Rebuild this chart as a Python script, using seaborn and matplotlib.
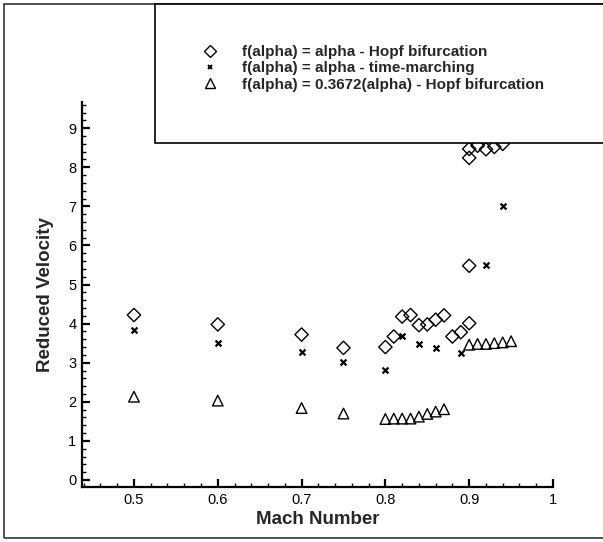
import numpy as np
import pandas as pd
import matplotlib
matplotlib.use("Agg")
import matplotlib.pyplot as plt
import seaborn as sns
from matplotlib.lines import Line2D
from matplotlib.patches import Rectangle
from matplotlib.ticker import MultipleLocator

# ---- data ----
mach_hopf = [0.5, 0.6, 0.7, 0.75, 0.8, 0.81, 0.82, 0.83, 0.84, 0.85, 0.86, 0.87,
             0.88, 0.89, 0.90, 0.90, 0.90, 0.90, 0.91, 0.92, 0.93, 0.94]
vel_hopf = [4.22, 3.98, 3.72, 3.38, 3.40, 3.67, 4.18, 4.22, 3.96, 3.98, 4.10, 4.21,
            3.67, 3.78, 4.01, 5.48, 8.24, 8.47, 8.55, 8.46, 8.52, 8.60]

mach_tm = [0.5, 0.6, 0.7, 0.75, 0.8, 0.82, 0.84, 0.86, 0.89, 0.92, 0.94]
vel_tm = [3.84, 3.50, 3.27, 3.02, 2.81, 3.69, 3.47, 3.37, 3.25, 5.51, 7.00]

mach_sc = [0.5, 0.6, 0.7, 0.75, 0.8, 0.81, 0.82, 0.83, 0.84, 0.85, 0.86, 0.87,
           0.90, 0.91, 0.92, 0.93, 0.94, 0.95]
vel_sc = [2.13, 2.03, 1.84, 1.70, 1.56, 1.57, 1.57, 1.57, 1.62, 1.69, 1.75, 1.81,
          3.46, 3.48, 3.48, 3.50, 3.52, 3.55]

labels = ["f(alpha) = alpha - Hopf bifurcation",
          "f(alpha) = alpha - time-marching",
          "f(alpha) = 0.3672(alpha) - Hopf bifurcation"]

x_ticks = [0.5, 0.6, 0.7, 0.8, 0.9, 1.0]
x_ticklabels = ["0.5", "0.6", "0.7", "0.8", "0.9", "1"]
y_ticks = list(range(0, 10))

sns.set_theme(style="white")
plt.rcParams['font.family'] = ['Liberation Sans', 'DejaVu Sans']

W, H = 603, 542
fig = plt.figure(figsize=(W / 100, H / 100), dpi=100)
ax = fig.add_axes([82 / W, 1 - 487 / H, (553 - 82) / W, (487 - 102) / H])

df_h = pd.DataFrame({"Mach": mach_hopf, "V": vel_hopf})
df_t = pd.DataFrame({"Mach": mach_tm, "V": vel_tm})
df_s = pd.DataFrame({"Mach": mach_sc, "V": vel_sc})

sns.scatterplot(data=df_h, x="Mach", y="V", marker="D", s=46, facecolor="none",
                edgecolor="black", linewidth=1.0, ax=ax, legend=False)
sns.scatterplot(data=df_t, x="Mach", y="V", marker="x", s=18, color="black",
                linewidth=1.6, ax=ax, legend=False)
sns.scatterplot(data=df_s, x="Mach", y="V", marker="^", s=58, facecolor="none",
                edgecolor="black", linewidth=1.0, ax=ax, legend=False)

ax.set_xlim(0.438, 1.0)
ax.set_ylim(-0.18, 9.67)
ax.set_xticks(x_ticks)
ax.set_xticklabels(x_ticklabels)
ax.set_yticks(y_ticks)
ax.xaxis.set_minor_locator(MultipleLocator(0.02))
ax.yaxis.set_minor_locator(MultipleLocator(0.2))
ax.tick_params(which="major", direction="in", length=6, width=1.6, colors="black",
               labelsize=10.5, pad=4)
ax.tick_params(which="minor", direction="in", length=3, width=1.0, colors="black")
ax.tick_params(axis="x", which="both", bottom=True, top=False)
ax.tick_params(axis="y", which="both", left=True, right=False)
for side in ["top", "right"]:
    ax.spines[side].set_visible(False)
for side in ["left", "bottom"]:
    ax.spines[side].set_linewidth(1.6)
    ax.spines[side].set_color("black")

ax.set_xlabel("Mach Number", fontsize=13.5, fontweight="bold", labelpad=3)
ax.set_ylabel("Reduced Velocity", fontsize=13.5, fontweight="bold", labelpad=10)

# outer frame (right edge runs off the image)
fig.add_artist(Rectangle((4 / W, 1 - 538 / H), (W + 10) / W, 534 / H, transform=fig.transFigure,
                         facecolor="none", edgecolor="#333333", linewidth=1.2, zorder=10))
# legend box (opaque, covers data)
fig.add_artist(Rectangle((155 / W, 1 - 143 / H), (W - 155 + 10) / W, (143 - 4) / H,
                         transform=fig.transFigure, facecolor="white",
                         edgecolor="black", linewidth=1.2, zorder=11, clip_on=False))

handles = [
    Line2D([], [], linestyle="none", marker="D", markersize=6.6, markerfacecolor="none",
           markeredgecolor="black", markeredgewidth=1.0),
    Line2D([], [], linestyle="none", marker="x", markersize=3.5, color="black",
           markeredgewidth=1.4),
    Line2D([], [], linestyle="none", marker="^", markersize=7, markerfacecolor="none",
           markeredgecolor="black", markeredgewidth=1.0),
]
leg = fig.legend(handles, labels, loc="upper left", bbox_to_anchor=(201 / W, 1 - 45 / H),
                 frameon=False, prop={"weight": "bold", "size": 11},
                 handlelength=1.2, handletextpad=1.5, labelspacing=0.15,
                 borderpad=0, borderaxespad=0)
leg.set_zorder(12)

fig.savefig("out.png", dpi=100)
